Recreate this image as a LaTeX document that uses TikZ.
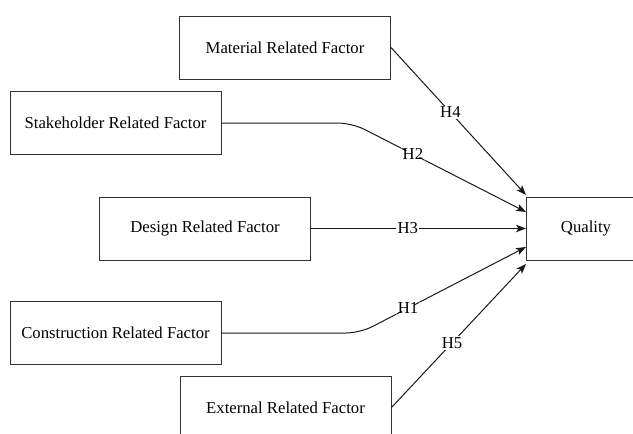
\documentclass[tikz,border=0pt]{standalone}
\usepackage{fontspec}
\setmainfont{Liberation Serif}
\usetikzlibrary{arrows.meta}
\begin{document}
\begin{tikzpicture}[x=1pt,y=-1pt,
  box/.style={draw=black!80,line width=1pt,minimum width=211pt,minimum height=63pt,inner sep=0pt,font=\fontsize{16.7}{20}\selectfont},
  conn/.style={draw=black!90,line width=1pt,-{Stealth[length=10pt,width=7.5pt,inset=2.5pt]}},
  lbl/.style={fill=white,inner sep=1.2pt,font=\fontsize{16.7}{20}\selectfont}]
\useasboundingbox (0,0) rectangle (633,434);
\node[box] (mat) at (285,47.5) {Material Related Factor};
\node[box] (stk) at (115.5,123) {Stakeholder Related Factor};
\node[box] (des) at (205,228.5) {Design Related Factor};
\node[box] (con) at (115.5,333) {Construction Related Factor};
\node[box] (ext) at (285.5,407.5) {External Related Factor};
\node[box,minimum width=120pt] (q) at (586,228.5) {Quality};
\coordinate (t4) at (526,195);
\coordinate (t2) at (526,212);
\coordinate (t3) at (526,228.5);
\coordinate (t1) at (526,247);
\coordinate (t5) at (526,264);
\coordinate (b2) at (352,123);
\coordinate (b1) at (360,333);
\draw[conn] (mat.east) -- node[lbl,pos=0.44]{H4} (t4);
\draw[conn,rounded corners=14pt] (stk.east) -- (b2) -- node[lbl,pos=0.35]{H2} (t2);
\draw[conn] (des.east) -- node[lbl,pos=0.45]{H3} (t3);
\draw[conn,rounded corners=14pt] (con.east) -- (b1) -- node[lbl,pos=0.29]{H1} (t1);
\draw[conn] (ext.east) -- node[lbl,pos=0.45]{H5} (t5);
\end{tikzpicture}
\end{document}
